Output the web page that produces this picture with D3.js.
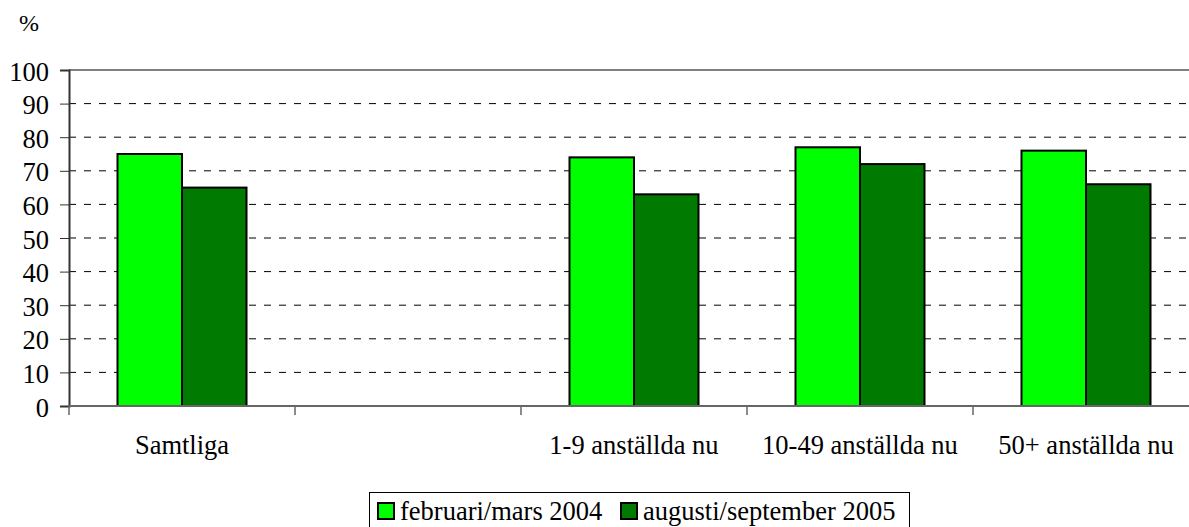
<!DOCTYPE html>
<html>
<head>
<meta charset="utf-8">
<script src="https://cdn.jsdelivr.net/npm/d3@7"></script>
<style>
  body { margin: 0; background: #fff; }
</style>
</head>
<body>
<div id="chart"></div>
<script>
// data
const categories = ["Samtliga", "", "1-9 anställda nu", "10-49 anställda nu", "50+ anställda nu"];
const seriesNames = ["februari/mars 2004", "augusti/september 2005"];
const feb2004 = [75, null, 74, 77, 76];
const aug2005 = [65, null, 63, 72, 66];
const yTicks = [0, 10, 20, 30, 40, 50, 60, 70, 80, 90, 100];
const colors = ["#00ff00", "#007a00"];

const width = 1189;
const height = 527;
const plotLeft = 69, plotRight = 1199, plotTop = 70, plotBottom = 406;
const serif = "'Liberation Serif', 'Times New Roman', serif";
const fontSize = 26.5;

const svg = d3.select("#chart")
    .append("svg")
    .attr("width", width)
    .attr("height", height)
    .attr("font-family", serif);

const x = d3.scaleBand().domain(categories.map((c, i) => i)).range([plotLeft, plotRight]);
const inner = d3.scaleBand().domain([0, 1]).range([48.5, x.bandwidth() - 48.5]);
const y = d3.scaleLinear().domain([0, 100]).range([plotBottom, plotTop]);

// % label
svg.append("text")
    .attr("x", 19)
    .attr("y", 31)
    .attr("font-size", 24)
    .text("%");

// dashed gridlines
svg.append("g")
    .selectAll("line")
    .data(yTicks.filter((t) => t > 0 && t < 100))
    .join("line")
    .attr("x1", plotLeft)
    .attr("x2", plotRight)
    .attr("y1", (d) => y(d))
    .attr("y2", (d) => y(d))
    .attr("stroke", "#000")
    .attr("stroke-width", 1)
    .attr("stroke-dasharray", "7,8");

// top border
svg.append("line")
    .attr("x1", plotLeft).attr("x2", plotRight)
    .attr("y1", y(100)).attr("y2", y(100))
    .attr("stroke", "#808080")
    .attr("stroke-width", 2);

// bars
const series = [feb2004, aug2005];
series.forEach((vals, s) => {
    svg.append("g")
        .selectAll("rect")
        .data(vals.map((v, i) => ({ v, i })).filter((d) => d.v != null))
        .join("rect")
        .attr("x", (d) => x(d.i) + inner(s))
        .attr("y", (d) => y(d.v))
        .attr("width", inner.bandwidth())
        .attr("height", (d) => y(0) - y(d.v))
        .attr("fill", colors[s])
        .attr("stroke", "#000")
        .attr("stroke-width", 2);
});

// y axis
const yAxis = svg.append("g")
    .attr("transform", `translate(${plotLeft},0)`)
    .call(d3.axisLeft(y).tickValues(yTicks).tickSize(9).tickPadding(11));
yAxis.attr("font-family", serif).attr("font-size", fontSize);
yAxis.select(".domain").attr("stroke", "#333").attr("stroke-width", 2);
yAxis.selectAll(".tick line").attr("stroke", "#333");
yAxis.selectAll("text")
    .attr("fill", "#000")
    .attr("dy", "0.38em");

// x axis
const xAxis = svg.append("g").attr("transform", `translate(0,${plotBottom})`);
xAxis.append("line")
    .attr("x1", plotLeft).attr("x2", plotRight)
    .attr("stroke", "#666").attr("stroke-width", 2);
xAxis.selectAll(".xt")
    .data(categories.map((c, i) => i))
    .join("line")
    .attr("class", "xt")
    .attr("x1", (d) => x(d)).attr("x2", (d) => x(d))
    .attr("y1", 0).attr("y2", 9)
    .attr("stroke", "#666").attr("stroke-width", 1.5);
xAxis.selectAll(".xl")
    .data(categories)
    .join("text")
    .attr("class", "xl")
    .attr("x", (d, i) => x(i) + x.bandwidth() / 2)
    .attr("y", 48)
    .attr("text-anchor", "middle")
    .attr("font-size", fontSize)
    .text((d) => d);

// legend
const legend = svg.append("g");
legend.append("rect")
    .attr("x", 369.5).attr("y", 492.5)
    .attr("width", 540).attr("height", 40)
    .attr("fill", "#fff").attr("stroke", "#000").attr("stroke-width", 1);
const legendX = [378, 621];
seriesNames.forEach((name, s) => {
    legend.append("rect")
        .attr("x", legendX[s]).attr("y", 503)
        .attr("width", 16).attr("height", 16)
        .attr("fill", colors[s]).attr("stroke", "#000").attr("stroke-width", 2);
    legend.append("text")
        .attr("x", legendX[s] + 22)
        .attr("y", 520)
        .attr("font-size", fontSize)
        .text(name);
});
</script>
</body>
</html>
